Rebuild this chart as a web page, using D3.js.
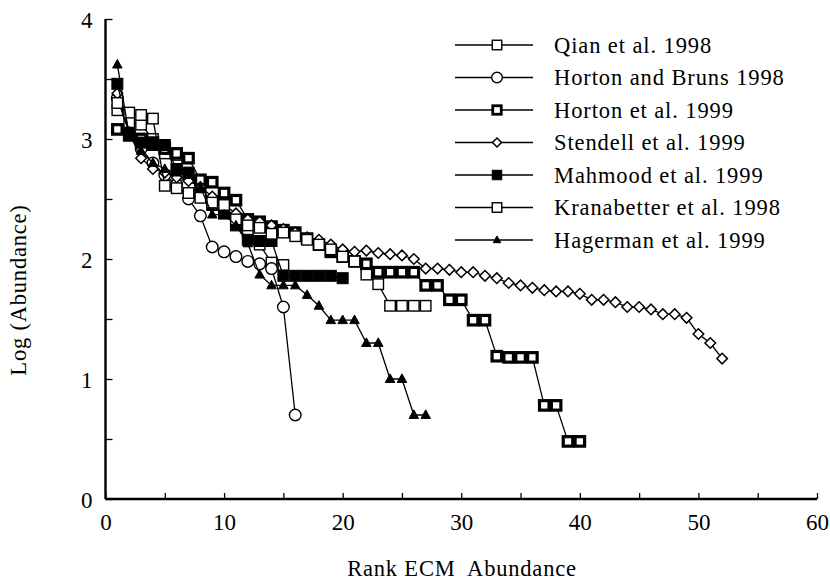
<!DOCTYPE html>
<html><head><meta charset="utf-8">
<script src="https://cdn.jsdelivr.net/npm/d3@7"></script>
<style>
html,body{margin:0;padding:0;background:#fff;}
text{font-family:"Liberation Serif","Times New Roman",serif;fill:#000;}
</style></head>
<body><svg id="chart" width="830" height="584"></svg>
<script>
// ---- data (rank = index + 1) ----
const seriesNames = ["Qian et al. 1998","Horton and Bruns 1998","Horton et al. 1999","Stendell et al. 1999","Mahmood et al. 1999","Kranabetter et al. 1998","Hagerman et al. 1999"];
const qian = [3.24,3.14,3.12,3.0,2.88,2.78,2.7,2.58,2.48,2.38,2.3,2.22,2.12,1.97,1.95];
const hortonBruns = [3.34,3.05,2.92,2.8,2.7,2.62,2.5,2.36,2.10,2.06,2.02,1.98,1.96,1.92,1.60,0.70];
const horton1999 = [3.08,3.03,3.0,2.97,2.92,2.88,2.84,2.66,2.64,2.55,2.49,2.33,2.31,2.27,2.24,2.22,2.17,2.12,2.06,2.02,1.98,1.96,1.89,1.89,1.89,1.89,1.78,1.78,1.66,1.66,1.49,1.49,1.19,1.18,1.18,1.18,0.78,0.78,0.48,0.48];
const stendell = [3.38,3.05,2.84,2.75,2.72,2.68,2.65,2.6,2.52,2.45,2.38,2.33,2.31,2.28,2.25,2.22,2.18,2.16,2.12,2.08,2.06,2.07,2.05,2.04,2.03,2.0,1.92,1.92,1.91,1.89,1.89,1.86,1.84,1.80,1.78,1.76,1.74,1.73,1.73,1.71,1.66,1.66,1.64,1.60,1.60,1.58,1.54,1.54,1.51,1.375,1.30,1.17];
const mahmood = [3.46,3.05,2.97,2.95,2.95,2.75,2.72,2.55,2.45,2.38,2.28,2.16,2.15,2.15,1.86,1.86,1.86,1.86,1.86,1.84];
const kranabetter = [3.3,3.22,3.2,3.17,2.61,2.59,2.55,2.51,2.47,2.45,2.33,2.28,2.26,2.21,2.22,2.19,2.16,2.12,2.08,2.02,1.98,1.87,1.79,1.61,1.61,1.61,1.61];
const hagerman = [3.62,3.03,2.9,2.8,2.75,2.72,2.7,2.6,2.37,2.37,2.28,2.13,1.87,1.78,1.78,1.78,1.70,1.61,1.49,1.49,1.49,1.30,1.30,1.0,1.0,0.70,0.70];
const xTicks = [0,5,10,15,20,25,30,35,40,45,50,55,60];
const xLabels = [0,10,20,30,40,50,60];
const yTicks = [0,0.5,1,1.5,2,2.5,3,3.5,4];
const yLabels = [0,1,2,3,4];
const xTitle = "Rank ECM  Abundance";
const yTitle = "Log (Abundance)";

// ---- styles ----
const styles = [
  {kind:"square", size:10.5, fill:"#fff", sw:1.4, lsize:9.5},
  {kind:"circle", size:5.8, fill:"#fff", sw:1.4, lsize:5.3},
  {kind:"square", size:9.5, fill:"#fff", sw:3.2, lsize:8.5},
  {kind:"diamond", size:5.3, fill:"#fff", sw:1.5, lsize:4.5},
  {kind:"square", size:11, fill:"#000", sw:1, lsize:9.5},
  {kind:"square", size:10.5, fill:"#fff", sw:1.4, lsize:9.5},
  {kind:"triangle", size:9.5, fill:"#000", sw:1, lsize:7.5}
];
const allData = [qian,hortonBruns,horton1999,stendell,mahmood,kranabetter,hagerman];

const svg = d3.select("#chart");
const x = d3.scaleLinear().domain([0,60]).range([105.5,817]);
const y = d3.scaleLinear().domain([0,4]).range([499,19]);

function marker(g, kind, s, fill, sw){
  let el;
  if(kind==="square"){
    el = g.append("rect").attr("x",-s/2).attr("y",-s/2).attr("width",s).attr("height",s);
  } else if(kind==="circle"){
    el = g.append("circle").attr("r",s);
  } else if(kind==="diamond"){
    el = g.append("path").attr("d",`M0,${-s}L${s},0L0,${s}L${-s},0Z`);
  } else {
    const h = s*0.9;
    el = g.append("path").attr("d",`M0,${-h*0.6}L${s/2},${h*0.4}L${-s/2},${h*0.4}Z`);
  }
  el.attr("fill",fill).attr("stroke","#000").attr("stroke-width",sw);
}

// ---- series ----
const line = d3.line().x((d,i)=>x(i+1)).y(d=>y(d));
allData.forEach((arr,k)=>{
  const st = styles[k];
  const g = svg.append("g");
  g.append("path").attr("d",line(arr)).attr("fill","none").attr("stroke","#000").attr("stroke-width",1.3);
  arr.forEach((v,i)=>{
    const m = g.append("g").attr("transform",`translate(${x(i+1)},${y(v)})`);
    marker(m, st.kind, st.size, st.fill, st.sw);
  });
});

// ---- axes ----
const xAxis = d3.axisBottom(x).tickValues(xTicks).tickSize(-6).tickPadding(0)
  .tickFormat(d=> xLabels.includes(d) ? d : "");
const gx = svg.append("g").attr("transform","translate(0,499)").call(xAxis);
gx.select(".domain").attr("stroke-width",2.4).attr("d",`M${x(0)},0H${x(60)}`);
gx.selectAll(".tick line").attr("stroke-width",1.3);
gx.selectAll(".tick text").attr("y",31).attr("dy",0).attr("font-size",23)
  .attr("font-family","Liberation Serif");

const yAxis = d3.axisLeft(y).tickValues(yTicks).tickSize(-7).tickPadding(0)
  .tickFormat(d=> yLabels.includes(d) ? d : "");
const gy = svg.append("g").attr("transform",`translate(${x(0)},0)`).call(yAxis);
gy.select(".domain").attr("stroke-width",2.4).attr("d",`M0,${y(4)}V${y(0)}`);
gy.selectAll(".tick line").attr("stroke-width",1.3);
gy.selectAll(".tick text").attr("x",-13).attr("dy","0.35em").attr("font-size",23)
  .attr("font-family","Liberation Serif");

// ---- titles ----
svg.append("text").attr("x",462).attr("y",576).attr("text-anchor","middle")
  .attr("font-size",22.5).style("white-space","pre").attr("letter-spacing",0.8).text(xTitle);
svg.append("text").attr("transform","translate(26,290) rotate(-90)").attr("text-anchor","middle")
  .attr("font-size",22.5).attr("letter-spacing",0.8).text(yTitle);

// ---- legend ----
const legY = [45,77.5,110,142.5,175,207.5,240];
seriesNames.forEach((name,k)=>{
  const st = styles[k];
  const g = svg.append("g").attr("transform",`translate(0,${legY[k]})`);
  g.append("line").attr("x1",455).attr("x2",533).attr("y1",0).attr("y2",0).attr("stroke","#000").attr("stroke-width",1.4);
  const m = g.append("g").attr("transform","translate(497,0)");
  marker(m, st.kind, st.lsize, st.fill, st.sw===3.2?2.8:st.sw);
  g.append("text").attr("x",554).attr("y",0).attr("dy","0.35em").attr("font-size",22.5)
    .attr("letter-spacing",0.9).text(name);
});
</script></body></html>
